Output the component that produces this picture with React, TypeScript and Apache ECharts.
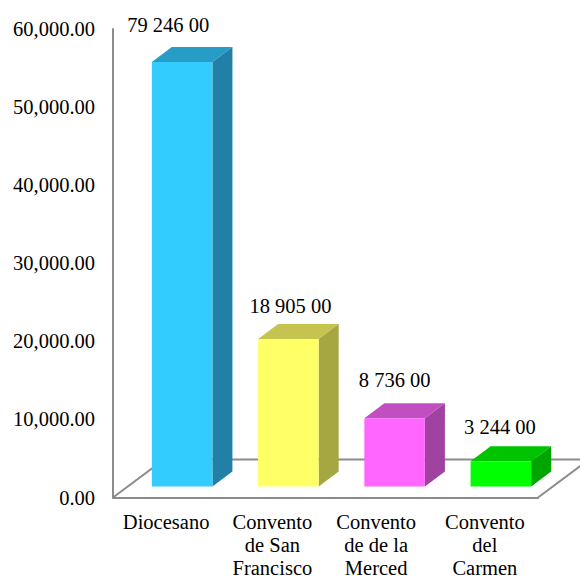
import React, { useEffect, useRef } from "react";
import * as echarts from "echarts";

const categories = [
  "Diocesano",
  "Convento\nde San\nFrancisco",
  "Convento\nde de la\nMerced",
  "Convento\ndel\nCarmen",
];
const amounts = [79246, 18905, 8736, 3244];
const axisTicks = { min: 0, max: 60000, interval: 10000 };

// Box ceiling of the 3D plot: taller columns are cut off at this value.
const columnCeiling = 54360;

const frontColors = ["#33CCFF", "#FFFF66", "#FF66FF", "#00FF00"];
const topColors = ["#269CC6", "#C4C44F", "#C24FC2", "#00C400"];
const sideColors = ["#2280A6", "#A6A642", "#A042A0", "#00A600"];

const FONT = '"Liberation Serif", "Times New Roman", serif';
const FONT_SIZE = 20.5;
const LINE = "#8C8C8C";

// Projection offsets of the fake 3D box, in pixels.
const floorDepth = { dx: 51, dy: -38 };
const barDepth = { dx: 20, dy: -15 };
const barShift = { x: 16, y: -11 };
const barWidthRatio = 0.57;
const labelNudge = [
  { x: -14, lift: 22.5 },
  { x: 2, lift: 18 },
  { x: 0, lift: 23 },
  { x: -1, lift: 19 },
];
// Right padding that pulls a category caption left of its band centre.
const captionPadding = [0, 0, 5, 0];

const formatAmount = (v: number) =>
  v.toLocaleString("en-US").replace(/,/g, " ") + " 00";

const renderFloor = (_p: any, api: any) => {
  const origin = api.coord([0, 0]);
  const band = api.size([1, 0])[0];
  const x0 = origin[0] - band / 2;
  const y0 = origin[1];
  const x1 = x0 + band * categories.length;
  return {
    type: "polyline",
    silent: true,
    shape: {
      points: [
        [x0, y0],
        [x0 + floorDepth.dx, y0 + floorDepth.dy],
        [x1 + floorDepth.dx, y0 + floorDepth.dy],
        [x1, y0],
      ],
    },
    style: { stroke: LINE, lineWidth: 2, fill: "none" },
  };
};

const renderColumn = (params: any, api: any) => {
  const i = params.dataIndex;
  const value = Math.min(api.value(1), columnCeiling);
  const base = api.coord([api.value(0), 0]);
  const top = api.coord([api.value(0), value]);
  const w = api.size([1, 0])[0] * barWidthRatio;
  const l = base[0] + barShift.x - w / 2;
  const r = l + w;
  const b = base[1] + barShift.y;
  const t = top[1] + barShift.y;
  const { dx, dy } = barDepth;
  const nudge = labelNudge[i];
  return {
    type: "group",
    children: [
      {
        type: "polygon",
        shape: { points: [[l, t], [r, t], [r + dx, t + dy], [l + dx, t + dy]] },
        style: { fill: topColors[i] },
      },
      {
        type: "polygon",
        shape: { points: [[r, t], [r + dx, t + dy], [r + dx, b + dy], [r, b]] },
        style: { fill: sideColors[i] },
      },
      {
        type: "rect",
        shape: { x: l, y: t, width: w, height: b - t },
        style: { fill: frontColors[i] },
      },
      {
        type: "text",
        x: (l + r) / 2 + nudge.x,
        y: t + dy - nudge.lift,
        style: {
          text: formatAmount(api.value(1)),
          fill: "#000",
          font: `${FONT_SIZE}px ${FONT}`,
          align: "center",
          verticalAlign: "middle",
        },
      },
    ],
  };
};

export default function App() {
  const ref = useRef<HTMLDivElement>(null);

  useEffect(() => {
    const chart = echarts.init(ref.current!, null, { renderer: "svg" });
    chart.setOption({
      animation: false,
      backgroundColor: "#fff",
      grid: {
        left: 113,
        top: 29,
        width: 425,
        height: 468.5,
        outerBoundsMode: "none",
      },
      xAxis: {
        type: "category",
        data: categories.map((value, i) => ({
          value,
          textStyle: { padding: [0, captionPadding[i], 0, 0] },
        })),
        axisTick: { show: false },
        axisLine: { lineStyle: { color: LINE, width: 2 } },
        axisLabel: {
          interval: 0,
          margin: 13,
          color: "#000",
          fontFamily: FONT,
          fontSize: FONT_SIZE,
          lineHeight: 23,
        },
      },
      yAxis: {
        type: "value",
        ...axisTicks,
        splitLine: { show: false },
        axisTick: { show: false },
        axisLine: { show: true, lineStyle: { color: LINE, width: 2 } },
        axisLabel: {
          margin: 18,
          color: "#000",
          fontFamily: FONT,
          fontSize: FONT_SIZE,
          formatter: (v: number) =>
            v.toLocaleString("en-US", {
              minimumFractionDigits: 2,
              maximumFractionDigits: 2,
            }),
        },
      },
      series: [
        {
          type: "custom",
          clip: false,
          silent: true,
          z: 1,
          data: [[0, 0]],
          renderItem: renderFloor,
        },
        {
          type: "custom",
          clip: false,
          z: 2,
          data: amounts.map((v, i) => [i, v]),
          renderItem: renderColumn,
        },
      ],
    });
    return () => chart.dispose();
  }, []);

  return (
    <div
      ref={ref}
      style={{ position: "fixed", left: 0, top: 0, width: 580, height: 577 }}
    />
  );
}
